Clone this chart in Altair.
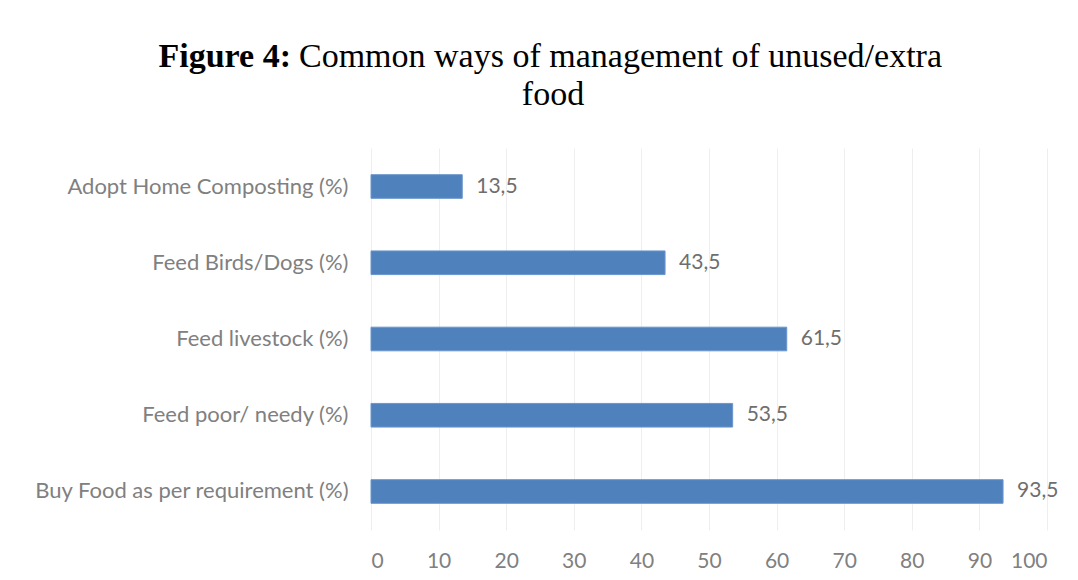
import altair as alt
import pandas as pd

categories = [
    "Adopt Home Composting (%)",
    "Feed Birds/Dogs (%)",
    "Feed livestock (%)",
    "Feed poor/ needy (%)",
    "Buy Food as per requirement (%)",
]
values = [13.5, 43.5, 61.5, 53.5, 93.5]
value_labels = ["13,5", "43,5", "61,5", "53,5", "93,5"]
x_ticks = [0, 10, 20, 30, 40, 50, 60, 70, 80, 90, 100]

df = pd.DataFrame({"cat": categories, "val": values, "lab": value_labels})

GRAY = "#808080"
LABEL_FONT = "Lato"

y_enc = alt.Y(
    "cat:N",
    sort=categories,
    scale=alt.Scale(paddingInner=0.69, paddingOuter=0.35),
    axis=alt.Axis(
        title=None, domain=False, ticks=False, labelPadding=23,
        labelFont=LABEL_FONT, labelFontSize=22, labelColor=GRAY, labelLimit=400,
        grid=False,
    ),
)
x_enc = alt.X(
    "val:Q",
    scale=alt.Scale(domain=[0, 100], nice=False),
    axis=alt.Axis(
        title=None, values=x_ticks, domain=False, ticks=False, labelPadding=20,
        labelFont=LABEL_FONT, labelFontSize=21, labelColor=GRAY,
        grid=True, gridColor="#eeeeee", gridWidth=1,
    ),
)

bars = alt.Chart(df).mark_bar(color="#4F81BD", stroke="#6a96cc", strokeWidth=1).encode(
    x=x_enc, y=y_enc
)
texts = alt.Chart(df).mark_text(
    align="left", baseline="middle", dx=14, font=LABEL_FONT, fontSize=21, color="#6e6e6e"
).encode(x="val:Q", y=alt.Y("cat:N", sort=categories), text="lab:N")

title_df = pd.DataFrame({"t": ["x"]})
title_bold = alt.Chart(title_df).mark_text(
    text="Figure 4:", align="right", baseline="alphabetic",
    font="Liberation Serif", fontSize=34, fontWeight="bold", color="#000000",
).encode(x=alt.value(-80), y=alt.value(-81))
title_rest = alt.Chart(title_df).mark_text(
    text="Common ways of management of unused/extra", align="left", baseline="alphabetic",
    font="Liberation Serif", fontSize=34, color="#000000",
).encode(x=alt.value(-72), y=alt.value(-81))
title_line2 = alt.Chart(title_df).mark_text(
    text="food", align="center", baseline="alphabetic",
    font="Liberation Serif", fontSize=34, color="#000000",
).encode(x=alt.value(182), y=alt.value(-43))

chart = alt.layer(bars, texts, title_bold, title_rest, title_line2).properties(
    width=676, height=382,
    background="#ffffff",
    autosize=alt.AutoSizeParams(type="none"),
    padding={"left": 363, "top": 140, "right": 20, "bottom": 50},
).configure_view(stroke=None, strokeWidth=0)

chart.save("out.html", embed_options={"renderer": "svg", "actions": False})
